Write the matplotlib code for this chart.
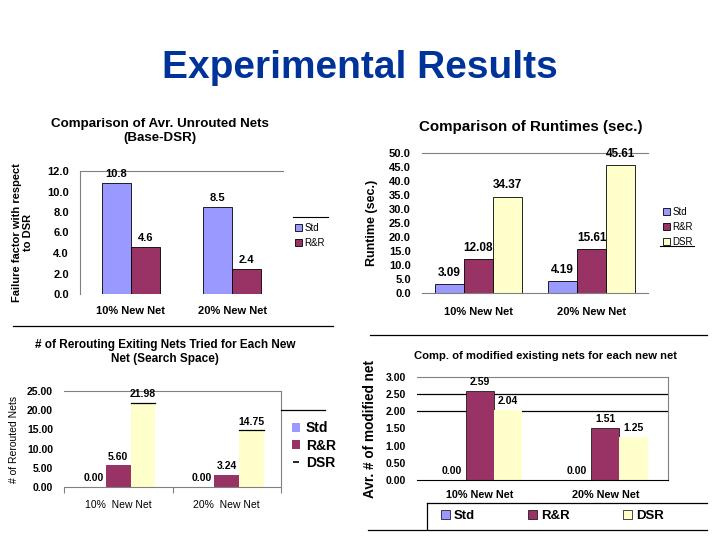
import matplotlib
matplotlib.use("Agg")
import matplotlib.pyplot as plt
import numpy as np
from matplotlib.lines import Line2D
from matplotlib.patches import Patch

plt.rcParams['font.family'] = ['Liberation Sans', 'DejaVu Sans']

categories = ["10% New Net", "20% New Net"]
cats3 = ["10%  New Net", "20%  New Net"]

# Panel 1
p1_std = [10.8, 8.5]
p1_rr = [4.6, 2.4]
p1_yticks = [0, 2, 4, 6, 8, 10, 12]
# Panel 2
p2_std = [3.09, 4.19]
p2_rr = [12.08, 15.61]
p2_dsr = [34.37, 45.61]
p2_yticks = [0, 5, 10, 15, 20, 25, 30, 35, 40, 45, 50]
# Panel 3
p3_std = [0.00, 0.00]
p3_rr = [5.60, 3.24]
p3_dsr = [21.98, 14.75]
p3_yticks = [0, 5, 10, 15, 20, 25]
# Panel 4
p4_std = [0.00, 0.00]
p4_rr = [2.59, 1.51]
p4_dsr = [2.04, 1.25]
p4_yticks = [0, 0.5, 1.0, 1.5, 2.0, 2.5, 3.0]

C_STD = '#9999FF'
C_RR = '#993366'
C_DSR = '#FFFFCC'

W, H = 720, 540
fig = plt.figure(figsize=(7.2, 5.4), dpi=100)


def fx(x):
    return x / W


def fy(y):
    return 1 - y / H


def px_axes(l, t, r, b):
    return fig.add_axes([fx(l), fy(b), (r - l) / W, (b - t) / H])


def fline(x0, y0, x1, y1, color='black', lw=1.0):
    fig.add_artist(Line2D([fx(x0), fx(x1)], [fy(y0), fy(y1)], color=color, lw=lw,
                          transform=fig.transFigure))


fig.text(fx(360), fy(68), "Experimental Results", ha='center', va='center',
         fontsize=28, fontweight='bold', color='#003399')

x = np.arange(2)

# ---------------- Panel 1 ----------------
ax1 = px_axes(80, 171, 283, 294)
w = 0.286
b1 = ax1.bar(x - w / 2, p1_std, w, color=C_STD, edgecolor='black', lw=0.6)
b2 = ax1.bar(x + w / 2, p1_rr, w, color=C_RR, edgecolor='black', lw=0.6)
ax1.set_xlim(-0.5, 1.5)
ax1.set_ylim(0, 12)
ax1.set_yticks(p1_yticks)
ax1.set_yticklabels([f"{v:.1f}" for v in p1_yticks], fontsize=8, fontweight='bold')
ax1.set_xticks(x)
ax1.set_xticklabels(categories, fontsize=8, fontweight='bold')
ax1.tick_params(length=0, pad=8)
ax1.tick_params(axis='x', pad=9)
for s in ['right', 'bottom']:
    ax1.spines[s].set_visible(False)
for s in ['left', 'top']:
    ax1.spines[s].set_color('#808080')
    ax1.spines[s].set_linewidth(0.8)
for xi, v in zip(x - w / 2, p1_std):
    ax1.text(xi, v + 0.4, f"{v:.1f}", ha='center', va='bottom', fontsize=8, fontweight='bold')
for xi, v in zip(x + w / 2, p1_rr):
    ax1.text(xi, v + 0.4, f"{v:.1f}", ha='center', va='bottom', fontsize=8, fontweight='bold')
ax1.set_ylabel("Failure factor with respect\nto DSR", fontsize=8, fontweight='bold', labelpad=10)
fig.text(fx(160), fy(131), "Comparison of Avr. Unrouted Nets\n(Base-DSR)", ha='center', va='center',
         fontsize=9.6, fontweight='bold', linespacing=1.2)
fig.legend([b1, b2], ["Std", "R&R"], loc='upper left', bbox_to_anchor=(fx(288), fy(216)),
           frameon=False, fontsize=7, handlelength=0.7, handleheight=0.7, handletextpad=0.3,
           labelspacing=0.5, borderpad=0.2)
fline(293, 217, 328, 217, lw=0.8)
fline(13, 326, 333, 326, lw=0.9)

# ---------------- Panel 2 ----------------
ax2 = px_axes(422, 153, 648, 293)
w = 0.257
c1 = ax2.bar(x - w, p2_std, w, color=C_STD, edgecolor='black', lw=0.6)
c2 = ax2.bar(x, p2_rr, w, color=C_RR, edgecolor='black', lw=0.6)
c3 = ax2.bar(x + w, p2_dsr, w, color=C_DSR, edgecolor='black', lw=0.6)
ax2.set_xlim(-0.5, 1.5)
ax2.set_ylim(0, 50)
ax2.set_yticks(p2_yticks)
ax2.set_yticklabels([f"{v:.1f}" for v in p2_yticks], fontsize=8, fontweight='bold')
ax2.set_xticks(x)
ax2.set_xticklabels(categories, fontsize=8, fontweight='bold')
ax2.tick_params(length=0, pad=8)
ax2.tick_params(axis='x', pad=10)
for s in ['right', 'left']:
    ax2.spines[s].set_visible(False)
for s in ['bottom', 'top']:
    ax2.spines[s].set_color('#808080')
    ax2.spines[s].set_linewidth(0.8)
for off, vals in [(-w, p2_std), (0, p2_rr), (w, p2_dsr)]:
    for xi, v in zip(x + off, vals):
        ax2.text(xi, v + 2.0, f"{v:.2f}", ha='center', va='bottom', fontsize=8.5, fontweight='bold')
ax2.set_ylabel("Runtime (sec.)", fontsize=9, fontweight='bold', labelpad=8)
fig.text(fx(531), fy(127), "Comparison of Runtimes (sec.)", ha='center', va='center',
         fontsize=10.9, fontweight='bold')
fig.legend([c1, c2, c3], ["Std", "R&R", "DSR"], loc='upper left', bbox_to_anchor=(fx(656), fy(200)),
           frameon=False, fontsize=7, handlelength=0.7, handleheight=0.7, handletextpad=0.3,
           labelspacing=0.5, borderpad=0.2)
fline(660, 246, 694, 246, lw=0.8)

# ---------------- Panel 3 ----------------
ax3 = px_axes(64, 391, 281, 487)
w = 0.226
d1 = ax3.bar(x - w, p3_std, w, color=C_STD, lw=0)
d2 = ax3.bar(x, p3_rr, w, color=C_RR, lw=0)
d3 = ax3.bar(x + w, p3_dsr, w, color=C_DSR, lw=0)
for xi, v in zip(x + w, p3_dsr):
    ax3.plot([xi - w / 2, xi + w / 2], [v, v], color='black', lw=0.9)
ax3.set_xlim(-0.5, 1.5)
ax3.set_ylim(0, 25)
ax3.set_yticks(p3_yticks)
ax3.set_yticklabels([f"{v:.2f}" for v in p3_yticks], fontsize=7.5, fontweight='bold')
ax3.set_xticks([-0.5, 0.5, 1.5], minor=False)
ax3.set_xticklabels(["", "", ""])
ax3.set_xticks(x, minor=True)
ax3.set_xticklabels(cats3, minor=True, fontsize=7.5)
ax3.tick_params(axis='x', which='major', length=4, color='#808080', direction='out')
ax3.tick_params(axis='x', which='minor', length=0, pad=9)
ax3.tick_params(axis='y', length=0, pad=8)
ax3.spines['left'].set_visible(False)
for s in ['bottom', 'top', 'right']:
    ax3.spines[s].set_color('#808080')
    ax3.spines[s].set_linewidth(0.8)
for off, vals in [(-w, p3_std), (0, p3_rr), (w, p3_dsr)]:
    for xi, v in zip(x + off, vals):
        ax3.text(xi, v + 1.0, f"{v:.2f}", ha='center', va='bottom', fontsize=7.5, fontweight='bold')
ax3.set_ylabel("# of Rerouted Nets", fontsize=7.5, labelpad=6)
fig.text(fx(165), fy(352), "# of Rerouting Exiting Nets Tried for Each New\nNet (Search Space)",
         ha='center', va='center', fontsize=8.5, fontweight='bold', linespacing=1.3)
dsr_handle = Line2D([], [], color='black', marker='_', lw=0, markersize=5, markeredgewidth=1.2)
fig.legend([d1, d2, dsr_handle], ["Std", "R&R", "DSR"], loc='upper left',
           bbox_to_anchor=(fx(281), fy(410)), frameon=False,
           prop={'size': 10, 'weight': 'bold'}, handlelength=0.6, handleheight=0.6,
           handletextpad=0.4, labelspacing=0.25, borderpad=0.3)
fline(281, 410, 325, 410, lw=0.9)

# ---------------- Panel 4 ----------------
ax4 = px_axes(417, 377, 668, 480)
w = 0.227
e1 = ax4.bar(x - w, p4_std, w, color=C_STD, lw=0)
e2 = ax4.bar(x, p4_rr, w, color=C_RR, edgecolor='black', lw=0.5)
e3 = ax4.bar(x + w, p4_dsr, w, color=C_DSR, lw=0)
for gv in [2.0, 2.5]:
    ax4.axhline(gv, color='black', lw=0.9, zorder=0)
ax4.set_xlim(-0.5, 1.5)
ax4.set_ylim(0, 3)
ax4.set_yticks(p4_yticks)
ax4.set_yticklabels([f"{v:.2f}" for v in p4_yticks], fontsize=7.5, fontweight='bold')
ax4.set_xticks(x)
ax4.set_xticklabels(categories, fontsize=7.8, fontweight='bold')
ax4.tick_params(length=0, pad=8)
ax4.tick_params(axis='x', pad=7)
ax4.spines['left'].set_visible(False)
ax4.spines['bottom'].set_color('black')
for s in ['top', 'right']:
    ax4.spines[s].set_color('#808080')
    ax4.spines[s].set_linewidth(0.8)
for off, vals in [(-w, p4_std), (0, p4_rr), (w, p4_dsr)]:
    for xi, v in zip(x + off, vals):
        ax4.text(xi, v + 0.12, f"{v:.2f}", ha='center', va='bottom', fontsize=7.5, fontweight='bold')
ax4.set_ylabel("Avr. # of modified net", fontsize=9.8, fontweight='bold', labelpad=6)
fig.text(fx(545), fy(356), "Comp. of modified existing nets for each new net",
         ha='center', va='center', fontsize=8.1, fontweight='bold')
fig.legend([e1, Patch(facecolor=C_RR, edgecolor='black', lw=0.5),
            Patch(facecolor=C_DSR, edgecolor='black', lw=0.5)],
           ["Std", "R&R", "DSR"], loc='center left', bbox_to_anchor=(fx(433), fy(516)),
           ncol=3, frameon=False, prop={'size': 9.5, 'weight': 'bold'},
           handlelength=0.7, handleheight=0.7, handletextpad=0.3, columnspacing=4.0, borderpad=0.1)
e1_leg = fig.legends[-1]
e1_leg.legend_handles[0].set_edgecolor('black')
e1_leg.legend_handles[0].set_linewidth(0.5)
fline(370, 335, 707, 335, lw=0.9)
fline(427, 503, 707, 503, lw=0.9)
fline(427, 503, 427, 529, lw=0.9)
fline(368, 530, 707, 530, lw=0.9)

fig.savefig("out.png", dpi=100)
